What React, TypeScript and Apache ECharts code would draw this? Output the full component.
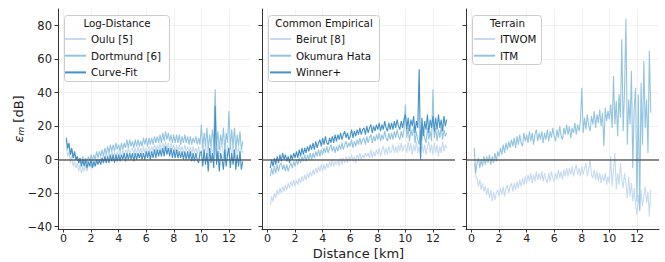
import React, { useEffect, useRef } from "react";
import * as echarts from "echarts";

const FONT = "DejaVu Sans";
const distStart = 0.2;
const distStep = 0.1;

const xTicks = [0, 2, 4, 6, 8, 10, 12];
const yTicks = [-40, -20, 0, 20, 40, 60, 80];

// Panel 1: Log-Distance
const oulu = [
  8, 2, 5, -2, 2, -4, -1, -5,
  -2, -7, -3, -8, -4, -7, -3, -7, -4, -2,
  -5, -1, -4, 1, -3, 1, -2, 2, -1, 3,
  0, 4, 1, 5, 1, 5, 2, 5, 1, 5,
  1, 5, 2, 6, 2, 6, 3, 7, 3, 6,
  7, 3, 7, 3, 8, 4, 7, 3, 8, 4,
  7, 3, 8, 4, 8, 5, 9, 5, 9, 5,
  10, 5, 10, 6, 11, 6, 10, 5, 10, 6,
  9, 5, 9, 4, 9, 5, 8, 4, 9, 5,
  8, 4, 8, 3, 8, 4, 7, 3, 8, 3,
  2, 9, 3, 10, 1, 8, 2, 9, 3, 9,
  8, 1, 9, 2, 7, 10, 1, 8, 2, 9,
  2, 10, 3, 8, 1, 9, 3, 8, 2, 7,
  4,
];
const dortmund = [
  11, 6, 9, 3, 6, 1, 4, 0,
  2, -2, 1, -3, 2, -2, 1, -2, 2, -1,
  3, -1, 3, 0, 5, 1, 5, 2, 6, 2,
  7, 3, 8, 4, 9, 5, 9, 5, 10, 6,
  9, 5, 10, 6, 10, 7, 12, 7, 12, 8,
  11, 7, 12, 8, 12, 8, 11, 8, 13, 9,
  13, 8, 13, 9, 13, 9, 14, 10, 14, 10,
  15, 10, 16, 11, 17, 12, 16, 11, 15, 10,
  15, 10, 15, 10, 15, 9, 14, 10, 15, 10,
  14, 9, 14, 9, 13, 10, 14, 9, 13, 9,
  21, 7, 16, 8, 19, 6, 15, 8, 18, 9,
  42, 8, 17, 6, 15, 9, 19, 5, 16, 10,
  29, 6, 18, 7, 19, 6, 15, 8, 17, 6,
  11,
];
const curveFit = [
  13, 7, 10, 3, 7, 1, 5, 0,
  2, -2, 1, -4, 0, -4, 0, -5, -1, -4,
  0, -5, -1, -4, 0, -3, 0, -3, 1, -2,
  2, -2, 2, -2, 3, -1, 3, -2, 3, -1,
  3, -1, 3, 0, 4, -1, 4, 0, 4, 0,
  4, -1, 4, 0, 4, 1, 4, 0, 4, 0,
  5, 1, 5, 0, 5, 1, 6, 1, 6, 2,
  6, 2, 7, 2, 8, 3, 7, 2, 7, 1,
  6, 1, 6, 1, 5, 1, 5, 0, 5, 0,
  5, 0, 5, -1, 4, -1, 4, 0, -2, 4,
  5, -4, 6, -3, 4, -7, 7, -2, 4, -5,
  32, -3, 5, -7, 4, 0, -6, 6, -4, 3,
  7, -5, 4, -3, 6, -6, 3, -4, 5, -6,
  -1,
];

// Panel 2: Common Empirical
const beirut = [
  -27, -22, -25, -20, -23, -18, -21, -17,
  -20, -16, -19, -15, -18, -14, -17, -13, -16, -12,
  -16, -12, -15, -11, -14, -10, -13, -9, -12, -8,
  -11, -7, -10, -6, -9, -5, -8, -4, -7, -3,
  -7, -3, -6, -2, -5, -1, -4, 0, -4, -1,
  -3, 0, -4, 1, -3, 1, -2, 2, -2, 2,
  -1, 3, -1, 2, -2, 3, 0, 4, 0, 3,
  1, 4, 2, 4, 1, 6, 1, 5, 2, 6,
  3, 7, 2, 6, 8, 3, 7, 3, 8, 4,
  5, 9, 4, 8, 4, 9, 5, 10, 5, 8,
  9, 4, 11, 5, 10, 3, 9, 5, 11, 4,
  8, 2, 10, 4, 9, 3, 8, 11, 4, 9,
  3, 10, 4, 9, 2, 8, 4, 11, 5, 9,
  7,
];
const okumuraHata = [
  -10, -5, -9, -4, -8, -3, -7, -3,
  -2, -6, -3, -7, -3, -7, -4, -2, -5, -1,
  -4, 0, -3, 1, -2, 2, -1, 3, -1, 3,
  0, 4, 0, 4, 1, 5, 2, 6, 2, 6,
  3, 7, 4, 8, 4, 7, 9, 5, 8, 4,
  8, 5, 9, 6, 10, 6, 9, 11, 7, 10,
  8, 12, 7, 11, 8, 12, 9, 13, 9, 12,
  13, 9, 14, 10, 13, 15, 10, 14, 11, 15,
  12, 16, 11, 15, 12, 17, 13, 11, 16, 12,
  16, 12, 17, 13, 18, 14, 12, 17, 13, 18,
  33, 13, 19, 11, 18, 14, 20, 10, 17, 12,
  9, 18, 11, 20, 13, 10, 19, 12, 17, 11,
  42, 13, 19, 11, 18, 13, 20, 12, 18, 14,
  16,
];
const winnerPlus = [
  -5, 0, -4, 1, -3, 2, -2, 3,
  -1, 4, 0, 3, -1, 2, -2, 3, 0, 4,
  1, 5, 1, 6, 2, 7, 3, 7, 4, 8,
  5, 9, 6, 10, 6, 11, 7, 10, 12, 8,
  13, 9, 14, 10, 9, 13, 10, 14, 10, 15,
  11, 15, 12, 16, 12, 15, 17, 13, 16, 12,
  14, 18, 13, 17, 14, 18, 15, 19, 15, 18,
  19, 15, 20, 16, 19, 21, 16, 20, 17, 21,
  18, 22, 17, 21, 18, 23, 19, 17, 22, 18,
  22, 18, 23, 19, 24, 20, 18, 23, 19, 24,
  27, 18, 25, 17, 24, 20, 26, 16, 23, 19,
  54, 0, 25, 14, 23, 18, 27, 16, 24, 19,
  26, 17, 25, 18, 27, 19, 24, 17, 26, 20,
  24,
];

// Panel 3: Terrain
const itwom = [
  -2, -10, -11, -16, -12, -18, -14, -19,
  -16, -21, -17, -23, -18, -25, -19, -24, -20, -18,
  -22, -17, -21, -16, -22, -17, -15, -20, -16, -14,
  -19, -14, -18, -13, -17, -12, -16, -11, -15, -10,
  -14, -9, -13, -8, -14, -9, -13, -7, -12, -8,
  -12, -7, -13, -8, -12, -14, -8, -13, -7, -11,
  -13, -8, -12, -6, -11, -7, -12, -6, -10, -5,
  -10, -5, -9, -4, -10, -6, -3, -9, -5, -10,
  -4, -9, -5, -2, -10, -6, 0, -9, -11, -6,
  -12, -7, -13, -8, -14, -9, -13, -8, -15, -10,
  -14, 2, -16, -6, 4, -18, -8, -15, -2, -12,
  -17, -8, -14, -23, -10, -22, -14, -25, -17, -27,
  -33, -21, -31, -18, -28, -22, -16, -26, -19, -34,
  -18,
];
const itm = [
  7, -8, -2, 1, -5, 0, -4, 2,
  -3, 2, -2, 3, -3, 2, -2, 4, -1, 5,
  2, 7, 3, 9, 4, 10, 6, 11, 7, 12,
  8, 13, 7, 14, 9, 15, 10, 8, 16, 11,
  15, 10, 17, 11, 16, 9, 15, 18, 11, 16,
  12, 17, 10, 16, 12, 18, 11, 17, 13, 19,
  14, 11, 18, 13, 20, 14, 12, 19, 15, 21,
  15, 20, 13, 19, 16, 22, 15, 21, 17, 23,
  43, 16, 25, 18, 27, 20, 17, 26, 21, 29,
  19, 27, 22, 30, 20, 28, 8, 31, 23, 29,
  24, 33, 19, 50, 21, 35, 14, 39, 25, 72,
  17, 41, 84, 9, 36, 21, 53, -5, 31, 43,
  -25, 39, -30, 46, 9, 59, 19, 36, 4, 65,
  28,
];

const LIGHT = "#c6dbef";
const MEDIUM = "#93c4e0";
const DARK = "#4391c6";

const gridLefts = [58, 262, 466];

function pts(vals: number[]) {
  return vals.map((v, i) => [+(distStart + distStep * i).toFixed(2), v]);
}

function lineSeries(name: string, vals: number[], color: string, idx: number, zero: boolean) {
  const s: any = {
    type: "line",
    name,
    xAxisIndex: idx,
    yAxisIndex: idx,
    data: pts(vals),
    showSymbol: false,
    symbol: "none",
    silent: true,
    lineStyle: { color, width: 1.1 },
    itemStyle: { color },
    z: 2,
  };
  if (zero) {
    s.markLine = {
      silent: true,
      symbol: ["none", "none"],
      label: { show: false },
      lineStyle: { color: "#555555", width: 1.6, type: "solid", opacity: 0.9 },
      data: [{ yAxis: 0 }],
      animation: false,
    };
  }
  return s;
}

const fmtNum = (v: number) => (v < 0 ? "\u2212" + Math.abs(v) : String(v));

export default function App() {
  const ref = useRef<HTMLDivElement>(null);
  useEffect(() => {
    if (!ref.current) return;
    const chart = echarts.init(ref.current, undefined, { renderer: "svg" });
    const grids = gridLefts.map((l) => ({ left: l, top: 9, width: 193, height: 220 }));
    const xAxes = gridLefts.map((_, i) => ({
      gridIndex: i,
      type: "value",
      min: -0.4,
      max: 13.6,
      axisLine: { show: true, onZero: false, lineStyle: { color: "#333", width: 1 } },
      axisTick: { show: true, length: 3.5, customValues: xTicks, lineStyle: { color: "#333" } },
      axisLabel: {
        customValues: xTicks,
        fontSize: 11,
        fontFamily: FONT,
        color: "#222",
        margin: 4,
        formatter: (v: number) => fmtNum(v),
      },
      splitLine: { show: true, lineStyle: { color: "#eeeeee", width: 0.8 } },
    }));
    const yAxes = gridLefts.map((_, i) => ({
      gridIndex: i,
      type: "value",
      min: -41.4,
      max: 90,
      axisLine: { show: true, onZero: false, lineStyle: { color: "#333", width: 1 } },
      axisTick: { show: true, length: 3.5, customValues: yTicks, lineStyle: { color: "#333" } },
      axisLabel: {
        show: i === 0,
        customValues: yTicks,
        fontSize: 11.5,
        fontFamily: FONT,
        color: "#222",
        margin: 6,
        formatter: (v: number) => fmtNum(v),
      },
      splitLine: { show: true, lineStyle: { color: "#eeeeee", width: 0.8 } },
    }));

    const series = [
      lineSeries("Oulu [5]", oulu, LIGHT, 0, false),
      lineSeries("Dortmund [6]", dortmund, MEDIUM, 0, false),
      lineSeries("Curve-Fit", curveFit, DARK, 0, true),
      lineSeries("Beirut [8]", beirut, LIGHT, 1, false),
      lineSeries("Okumura Hata", okumuraHata, MEDIUM, 1, false),
      lineSeries("Winner+", winnerPlus, DARK, 1, true),
      lineSeries("ITWOM", itwom, LIGHT, 2, false),
      lineSeries("ITM", itm, MEDIUM, 2, true),
    ];

    const legendBase = {
      orient: "vertical",
      top: 33,
      padding: 0,
      icon: "rect",
      itemWidth: 21,
      itemHeight: 2,
      itemGap: 4.7,
      selectedMode: false,
      textStyle: { fontSize: 10.3, fontFamily: FONT, color: "#111", lineHeight: 12 },
      z: 6,
    };
    const legends = [
      { ...legendBase, left: 65, data: ["Oulu [5]", "Dortmund [6]", "Curve-Fit"] },
      { ...legendBase, left: 270, data: ["Beirut [8]", "Okumura Hata", "Winner+"] },
      { ...legendBase, left: 474, data: ["ITWOM", "ITM"] },
    ];

    const box = (x: number, y: number, w: number, h: number) => ({
      type: "rect",
      shape: { x, y, width: w, height: h, r: 3 },
      style: { fill: "rgba(255,255,255,0.85)", stroke: "#cccccc", lineWidth: 1 },
      z: 5,
      silent: true,
    });
    const ttl = (text: string, x: number, y: number) => ({
      type: "text",
      x,
      y,
      style: { text, fill: "#111", font: `10.3px ${FONT}`, align: "center", verticalAlign: "middle" },
      z: 7,
      silent: true,
    });

    chart.setOption({
      animation: false,
      grid: grids,
      xAxis: xAxes,
      yAxis: yAxes,
      legend: legends,
      series,
      graphic: [
        box(64.5, 15.5, 105, 66),
        box(268.5, 15.5, 111, 66),
        box(472.5, 15.5, 69, 49),
        ttl("Log-Distance", 117, 22.5),
        ttl("Common Empirical", 324, 22.5),
        ttl("Terrain", 507.5, 22.5),
        {
          type: "text",
          x: 18,
          y: 119,
          rotation: Math.PI / 2,
          style: {
            text: "{e|\u03b5}{s|m} [dB]",
            fill: "#222",
            font: `13px ${FONT}`,
            align: "center",
            verticalAlign: "middle",
            rich: {
              e: { fontStyle: "italic", fontSize: 13, fontFamily: FONT, fill: "#222" },
              s: { fontStyle: "italic", fontSize: 9, fontFamily: FONT, fill: "#222", padding: [6, 0, 0, 0] },
            },
          },
          silent: true,
        },
        {
          type: "text",
          x: 358.5,
          y: 253.5,
          style: { text: "Distance [km]", fill: "#222", font: `13px ${FONT}`, align: "center", verticalAlign: "middle" },
          silent: true,
        },
      ],
    });
    return () => chart.dispose();
  }, []);
  return (
    <div
      ref={ref}
      style={{ position: "fixed", left: 0, top: 0, width: 665, height: 262, background: "#fff" }}
    />
  );
}
